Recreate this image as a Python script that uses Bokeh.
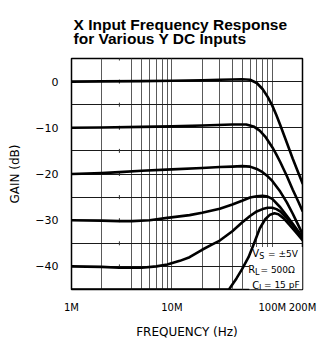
import math
from bokeh.plotting import figure
from bokeh.models import FixedTicker, Label, Title
from bokeh.embed import file_html
from bokeh.resources import INLINE

# ---- data (frequency in MHz, gain in dB) ----
freq_1 = [1, 2, 5, 10, 20, 30, 40, 50, 60, 70, 80, 90, 100, 110, 120, 140, 160, 180, 200]
gain_1 = [0, 0.05, 0.1, 0.2, 0.3, 0.4, 0.45, 0.5, 0.4, -0.3, -1.6, -3.3, -5.2, -7.3, -9.4, -13.3, -16.7, -19.5, -22]

freq_2 = [1, 2, 5, 10, 20, 40, 55, 65, 75, 85, 100, 110, 120, 140, 160, 180, 200]
gain_2 = [-10, -9.95, -9.8, -9.7, -9.5, -9.3, -9.3, -9.7, -10.6, -11.9, -14.2, -15.8, -17.4, -20.5, -23.4, -25.8, -28]

freq_3 = [1, 2, 3, 5, 10, 20, 30, 40, 50, 60, 70, 80, 90, 100, 120, 140, 160, 180, 200]
gain_3 = [-20, -19.8, -19.6, -19.3, -19.0, -18.7, -18.5, -18.4, -18.3, -18.4, -18.9, -19.6, -20.5, -21.5, -23.8, -26.2, -28.6, -30.9, -33]

freq_4 = [1, 2, 3, 4, 6, 9, 15, 20, 30, 40, 50, 60, 70, 80, 90, 100, 120, 140, 160, 180, 200]
gain_4 = [-30, -30.1, -30.2, -30.2, -30, -29.5, -28.9, -28.4, -27.5, -26.6, -25.8, -25.1, -24.8, -24.7, -24.9, -25.4, -27.2, -29.1, -30.8, -32.3, -33.6]

freq_5 = [1, 2, 3, 5, 7, 9, 12, 15, 20, 25, 30, 40, 50, 60, 70, 80, 90, 100, 110, 120, 140, 160, 180, 200]
gain_5 = [-40, -40.1, -40.3, -40.3, -40, -39.6, -38.8, -38, -36.4, -35.3, -34.4, -32.4, -30.5, -29.1, -28.1, -27.6, -27.3, -27.3, -27.6, -28.1, -29.6, -31.1, -32.5, -33.8]

freq_6 = [1, 37, 44, 50, 58, 65, 75, 85, 95, 105, 115, 130, 150, 175, 200]
gain_6 = [-45, -45, -42.6, -40.6, -38.0, -35.3, -31.8, -29.8, -28.8, -28.5, -28.7, -29.6, -31.1, -32.8, -34.3]

curves_freq = [freq_1, freq_2, freq_3, freq_4, freq_5, freq_6]
curves_gain = [gain_1, gain_2, gain_3, gain_4, gain_5, gain_6]

x_ticks = [1, 10, 100, 200]
x_tick_labels = ["1M", "10M", "100M", "200M"]
y_ticks = [-40, -30, -20, -10, 0]
y_tick_labels = ["\u221240", "\u221230", "\u221220", "\u221210", "0"]
x_grid = [2, 4, 5, 6, 7, 8, 9, 10, 20, 30, 40, 50, 60, 70, 80, 90, 100]
y_grid = [-40, -35, -30, -25, -20, -15, -10, -5, 0]
x_marks = [3]

title_text = "X Input Frequency Response\nfor Various Y DC Inputs"
x_title = "FREQUENCY (Hz)"
y_title = "GAIN (dB)"
x_min, x_max = 1, 200
y_min, y_max = -45, 5

# conditions box
cond_main = ["V", "R", "C"]
cond_sub = ["S", "L", "L"]
cond_rest = ["= \u00b15V", "= 500\u03a9", "= 15 pF"]
box_left, box_top = 59, -35.8

# ---- figure ----
p = figure(width=323, height=349, x_axis_type="log",
           x_range=(x_min, x_max), y_range=(y_min, y_max),
           output_backend="svg", toolbar_location=None, title_location=None,
           min_border_left=71, min_border_right=21, min_border_top=58, min_border_bottom=60)
p.background_fill_color = "white"
p.border_fill_color = "white"
p.outline_line_color = "black"
p.outline_line_width = 1.5

FONT = "DejaVu Sans"

p.add_layout(Title(text=title_text, align="left", offset=2, vertical_align="top",
                   text_font="Liberation Sans", text_font_style="bold",
                   text_font_size="15.5px", text_color="black",
                   text_line_height=0.85, standoff=20), "above")

xa = p.xaxis[0]
xa.ticker = FixedTicker(ticks=x_ticks)
xa.major_label_overrides = {t: l for t, l in zip(x_ticks, x_tick_labels)}
xa.major_label_standoff = 6
xa.axis_label = x_title
xa.axis_label_standoff = 9
xa.axis_label_text_font_size = "12px"
xa.major_label_text_font_size = "10px"

ya = p.yaxis[0]
ya.ticker = FixedTicker(ticks=y_ticks)
ya.major_label_overrides = {t: l for t, l in zip(y_ticks, y_tick_labels)}
ya.major_label_standoff = 7
ya.axis_label = y_title
ya.axis_label_standoff = 10
ya.axis_label_text_font_size = "12px"
ya.major_label_text_font_size = "11px"

for ax in (xa, ya):
    ax.axis_line_color = None
    ax.major_tick_line_color = None
    ax.minor_tick_line_color = None
    ax.major_label_text_font = FONT
    ax.major_label_text_color = "black"
    ax.axis_label_text_font = FONT
    ax.axis_label_text_font_style = "normal"
    ax.axis_label_text_color = "black"

p.xgrid.ticker = FixedTicker(ticks=x_grid)
p.xgrid.grid_line_color = "#5a5a5a"
p.xgrid.grid_line_width = 1
p.ygrid.ticker = FixedTicker(ticks=y_grid)
p.ygrid.grid_line_color = "#1a1a1a"
p.ygrid.grid_line_width = 1

# short marks at 3M
p.scatter(x=[x_marks[0]] * (len(y_grid) + 1), y=y_grid + [y_max], marker="dash",
          angle=math.pi / 2, size=4, line_color="#333333", line_width=1)

# white background behind conditions
p.quad(left=[box_left], right=[x_max], bottom=[y_min], top=[box_top],
       fill_color="white", line_color=None)

for fx, gy in zip(curves_freq, curves_gain):
    p.line(x=fx, y=gy, line_color="black", line_width=2.6, line_join="round", line_cap="round")

# conditions text
main_dx = [-20.1, -24.1, -20.1]
sub_dx = [-13.0, -17.3, -13.2]
rest_dx = [-4.3, -11.8, -8.3]
base_dy = [35.7, 20.0, 4.5]
for m, s, r, mx, sx, rx, dy in zip(cond_main, cond_sub, cond_rest, main_dx, sub_dx, rest_dx, base_dy):
    p.add_layout(Label(x=100, y=y_min, x_offset=mx, y_offset=dy, text=m,
                       text_font=FONT, text_font_size="10px", text_color="black",
                       text_align="left", text_baseline="alphabetic"))
    p.add_layout(Label(x=100, y=y_min, x_offset=sx, y_offset=dy - 3, text=s,
                       text_font=FONT, text_font_size="8px", text_color="black",
                       text_align="left", text_baseline="alphabetic"))
    p.add_layout(Label(x=100, y=y_min, x_offset=rx, y_offset=dy, text=r,
                       text_font=FONT, text_font_size="9px", text_color="black",
                       text_align="left", text_baseline="alphabetic"))

open("out.html", "w").write(file_html(p, INLINE))
